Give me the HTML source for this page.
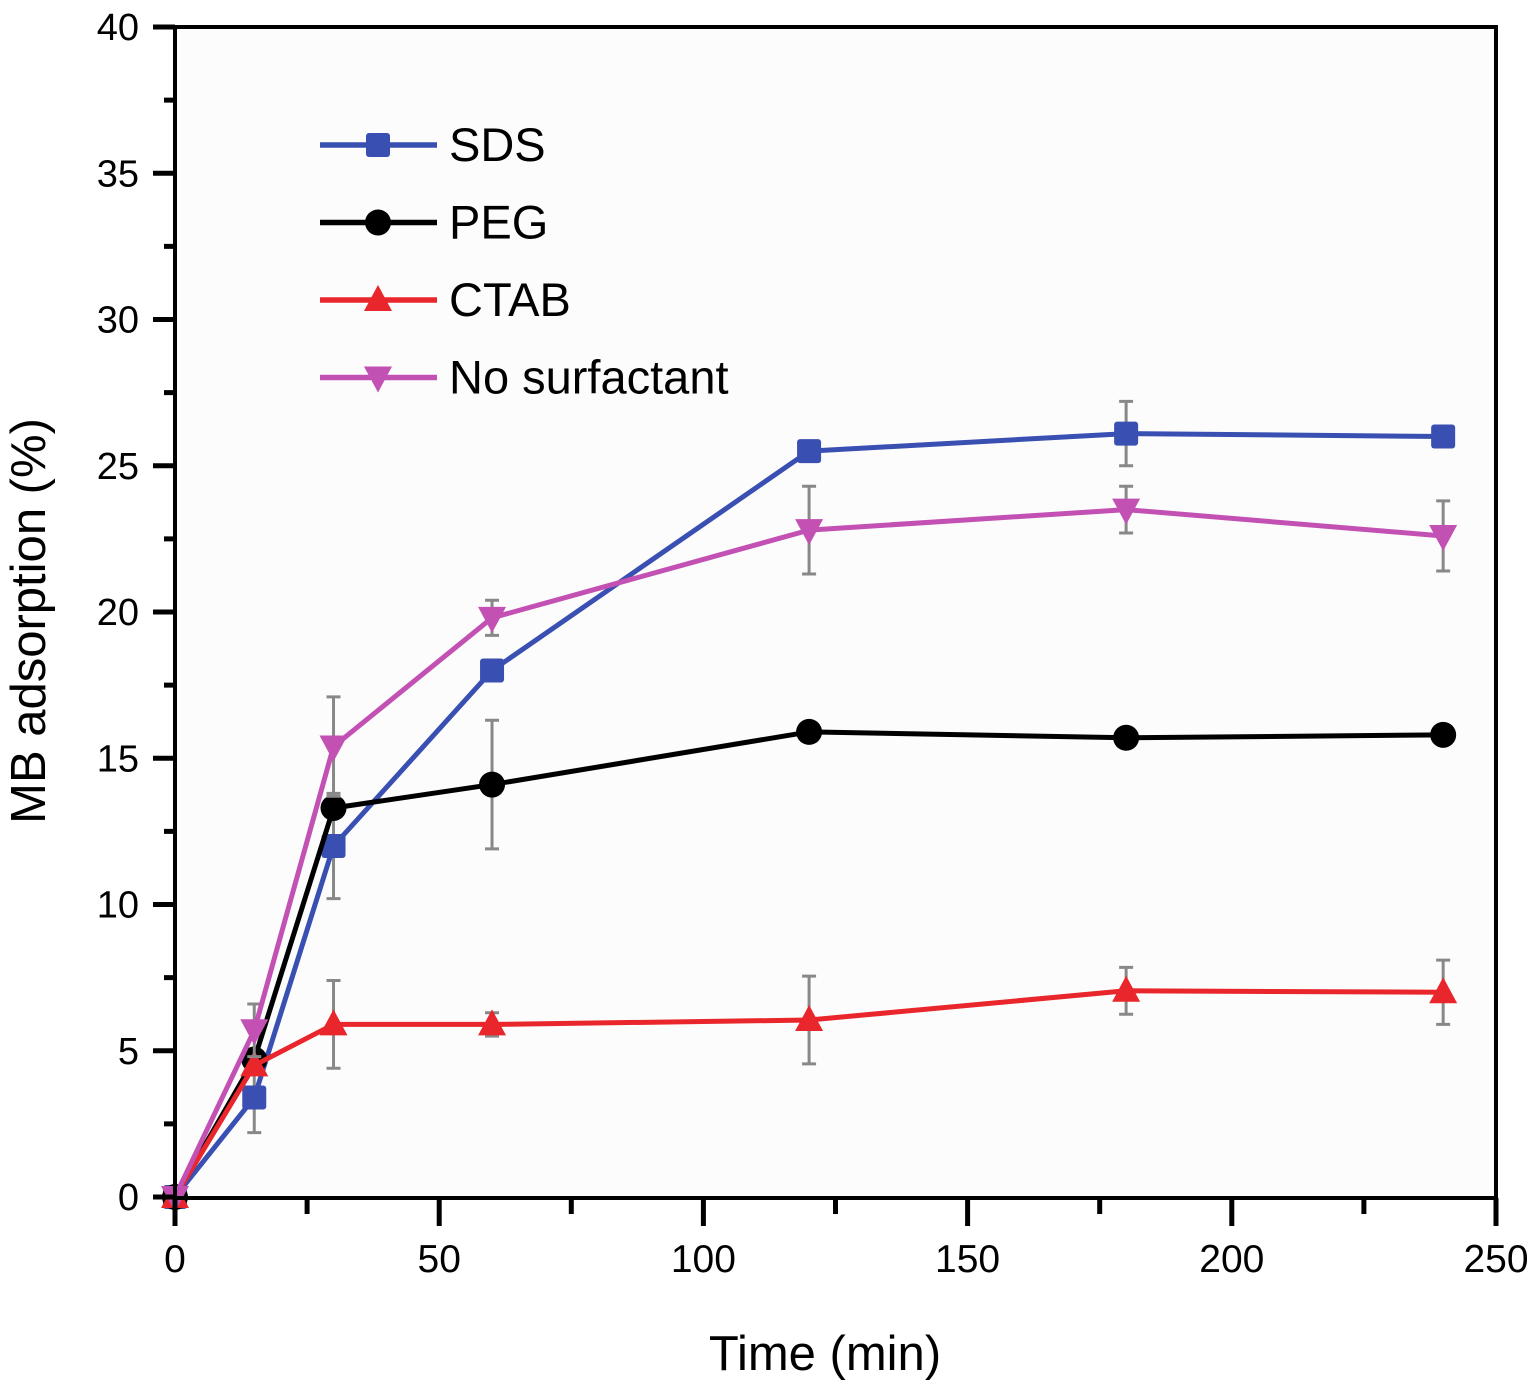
<!DOCTYPE html>
<html><head><meta charset="utf-8"><style>
body{margin:0;background:#fff}
svg{display:block;font-family:"Liberation Sans",Arial,sans-serif}
</style></head><body>
<svg id="chart" width="1527" height="1381" viewBox="0 0 1527 1381" xmlns="http://www.w3.org/2000/svg">
<rect x="175" y="27" width="1321" height="1171" fill="#fcfcfc"/>
<g id="grid"></g>
<g id="series"></g>
<rect x="175" y="27" width="1321" height="1171" fill="none" stroke="#000" stroke-width="4"/>
<g id="axes"></g>
<text x="825" y="1370" font-size="49" text-anchor="middle">Time (min)</text>
<text transform="translate(45,621) rotate(-90)" font-size="49" text-anchor="middle">MB adsorption (%)</text>
<g id="legend"></g>
</svg>
<script>
const times=[0,15,30,60,120,180,240];
const seriesNames=["SDS","PEG","CTAB","No surfactant"];
const sdsVals=[0,3.4,12.0,18.0,25.5,26.1,26.0];
const pegVals=[0,4.7,13.3,14.1,15.9,15.7,15.8];
const ctabVals=[0,4.5,5.9,5.9,6.05,7.05,7.0];
const noSurfVals=[0,5.7,15.4,19.8,22.8,23.5,22.6];
const sdsErr=[0,1.2,1.8,0,0,1.1,0];
const pegErr=[0,0,0,2.2,0,0,0];
const ctabErr=[0,0,1.5,0.4,1.5,0.8,1.1];
const noSurfErr=[0,0.9,1.7,0.6,1.5,0.8,1.2];
const xTicks=[0,50,100,150,200,250];
const yTicks=[0,5,10,15,20,25,30,35,40];

const NS="http://www.w3.org/2000/svg";
const X=v=>175+v*(1496-175)/250;
const Y=v=>1197-v*(1197-27)/40;
function mk(tag,attrs,parent){const e=document.createElementNS(NS,tag);for(const k in attrs)e.setAttribute(k,attrs[k]);parent.appendChild(e);return e;}
const axes=document.getElementById('axes');
xTicks.forEach(t=>{
  const l=mk('line',{x1:X(t),x2:X(t),y1:1198,y2:1226,stroke:'#000','stroke-width':5},axes);
  
  
  const tx=mk('text',{x:X(t),y:1272,'font-size':39,'text-anchor':'middle'},axes);
  tx.textContent=t;
  
  
  if(t<250){const m=mk('line',{x1:X(t+25),x2:X(t+25),y1:1198,y2:1214,stroke:'#000','stroke-width':5},axes);
  
  }
});
yTicks.forEach(t=>{
  const l=mk('line',{x1:153,x2:175,y1:Y(t),y2:Y(t),stroke:'#000','stroke-width':5},axes);
  
  
  const tx=mk('text',{x:139,y:Y(t)+13,'font-size':38,'text-anchor':'end'},axes);
  tx.textContent=t;
  
  
  if(t<40){const m=mk('line',{x1:164,x2:175,y1:Y(t+2.5),y2:Y(t+2.5),stroke:'#000','stroke-width':5},axes);
  
  }
});
function marker(type,cx,cy,color,parent){
  let e;
  if(type==='square')e=mk('rect',{x:cx-12,y:cy-12,width:24,height:24,rx:3,fill:color},parent);
  else if(type==='circle')e=mk('circle',{cx:cx,cy:cy,r:13,fill:color},parent);
  else if(type==='tri')e=mk('polygon',{points:`${cx},${cy-15} ${cx-14},${cy+11} ${cx+14},${cy+11}`,fill:color},parent);
  else e=mk('polygon',{points:`${cx-14},${cy-11} ${cx+14},${cy-11} ${cx},${cy+15}`,fill:color},parent);
  return e;
}
const defs=[
 {name:seriesNames[0],vals:sdsVals,err:sdsErr,color:'#3a4fb2',m:'square'},
 {name:seriesNames[1],vals:pegVals,err:pegErr,color:'#000',m:'circle'},
 {name:seriesNames[2],vals:ctabVals,err:ctabErr,color:'#e8262b',m:'tri'},
 {name:seriesNames[3],vals:noSurfVals,err:noSurfErr,color:'#c251b3',m:'dtri'}
];
const sg=document.getElementById('series');
defs.forEach(d=>{
  const g=mk('g',{},sg);
  
  
  d.err.forEach((e,i)=>{if(e>0){
    const x=X(times[i]);
    const b=mk('path',{d:`M${x},${Y(d.vals[i]-e)}V${Y(d.vals[i]+e)}M${x-7},${Y(d.vals[i]-e)}H${x+7}M${x-7},${Y(d.vals[i]+e)}H${x+7}`,stroke:'#888','stroke-width':3,fill:'none'},g);
    
    
  }});
  const p=mk('polyline',{points:d.vals.map((v,i)=>X(times[i])+','+Y(v)).join(' '),fill:'none',stroke:d.color,'stroke-width':5,'stroke-linejoin':'round'},g);
  
  
  d.vals.forEach((v,i)=>{
    const m=marker(d.m,X(times[i]),Y(v),d.color,g);
    
    
  });
});
const lg=document.getElementById('legend');
defs.forEach((d,i)=>{
  const y=145+i*77.5;
  const g=mk('g',{},lg);
  
  
  mk('line',{x1:320,x2:437,y1:y,y2:y,stroke:d.color,'stroke-width':5.5},g);
  marker(d.m,378,y,d.color,g);
  const t=mk('text',{x:449,y:y+16,'font-size':47},g);
  t.textContent=d.name;
});
</script>
</body></html>
